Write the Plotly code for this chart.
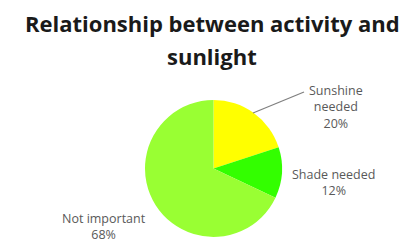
import plotly.graph_objects as go

categories = ["Sunshine needed", "Shade needed", "Not important"]
values = [20, 12, 68]
colors = ["#FFFF00", "#33FF00", "#99FF33"]
title_lines = ["Relationship between activity and", "sunlight"]

W, H = 417, 242
OFF = 8  # page body margin
FW, FH = W - OFF, H - OFF

def px(x):
    return (x - OFF) / FW

def py(y):
    return 1 - (y - OFF) / FH

fig = go.Figure()
fig.add_trace(go.Pie(
    labels=categories, values=values, sort=False, direction="clockwise",
    rotation=0, marker=dict(colors=colors, line=dict(width=0)),
    textinfo="none", hoverinfo="label+percent", showlegend=False,
    domain=dict(x=[px(145), px(282)], y=[py(237), py(100)]),
))

label_pos = [(336, 107, "Sunshine<br>needed"), (333, 182, "Shade needed"), (104, 226, "Not important")]
total = sum(values)
for (x, y, name), v in zip(label_pos, values):
    fig.add_annotation(x=px(x), y=py(y), xref="paper", yref="paper",
                       text=f"{name}<br>{round(100 * v / total)}%", showarrow=False,
                       font=dict(family="Open Sans", size=12.5, color="#595959"),
                       xanchor="center", yanchor="middle")

fig.add_shape(type="line", xref="paper", yref="paper",
              x0=px(253), y0=py(113), x1=px(304), y1=py(92),
              line=dict(color="#7f7f7f", width=1.2))

fig.add_annotation(x=px(212), y=py(23), xref="paper", yref="paper",
                   text="<b>" + title_lines[0] + "</b>", showarrow=False,
                   font=dict(family="Open Sans", size=22, color="#1a1a1a"),
                   xanchor="center", yanchor="middle")
fig.add_annotation(x=px(212), y=py(56), xref="paper", yref="paper",
                   text="<b>" + title_lines[1] + "</b>", showarrow=False,
                   font=dict(family="Open Sans", size=22, color="#1a1a1a"),
                   xanchor="center", yanchor="middle")

fig.update_layout(width=FW, height=FH, margin=dict(l=0, r=0, t=0, b=0),
                  paper_bgcolor="white", plot_bgcolor="white")
fig.write_html("out.html")
